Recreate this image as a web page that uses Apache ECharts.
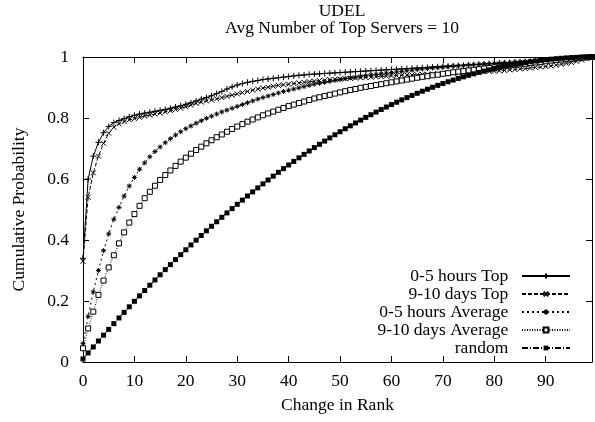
<!DOCTYPE html>
<html>
<head>
<meta charset="utf-8">
<script src="https://cdn.jsdelivr.net/npm/echarts@6/dist/echarts.min.js"></script>
<style>
html,body{margin:0;padding:0;background:#fff;}
#c{width:595px;height:422px;}
</style>
</head>
<body>
<div id="c"></div>
<script>
const titleLines = ["UDEL", "Avg Number of Top Servers = 10"];
const xAxisName = "Change in Rank";
const yAxisName = "Cumulative Probability";
const seriesNames = ["0-5 hours Top", "9-10 days Top", "0-5 hours Average", "9-10 days Average", "random"];

const ranks = [0,1,2,3,4,5,6,7,8,9,10,11,12,13,14,15,16,17,18,19,20,21,22,23,24,25,26,27,28,29,30,31,32,33,34,35,36,37,38,39,40,41,42,43,44,45,46,47,48,49,50,51,52,53,54,55,56,57,58,59,60,61,62,63,64,65,66,67,68,69,70,71,72,73,74,75,76,77,78,79,80,81,82,83,84,85,86,87,88,89,90,91,92,93,94,95,96,97,98,99];

const hoursTop = [0.34,0.60,0.675,0.72,0.752,0.772,0.785,0.792,0.798,0.804,0.809,0.813,0.816,0.819,0.822,0.825,0.828,0.832,0.836,0.84,0.845,0.85,0.856,0.862,0.867,0.873,0.88,0.887,0.895,0.902,0.908,0.913,0.917,0.92,0.923,0.926,0.928,0.93,0.932,0.934,0.936,0.938,0.94,0.941,0.943,0.944,0.945,0.946,0.947,0.948,0.949,0.95,0.951,0.952,0.953,0.954,0.955,0.956,0.957,0.958,0.959,0.96,0.961,0.962,0.963,0.964,0.965,0.966,0.967,0.968,0.969,0.97,0.971,0.972,0.973,0.974,0.975,0.976,0.977,0.978,0.979,0.98,0.981,0.982,0.983,0.984,0.985,0.986,0.987,0.988,0.989,0.99,0.991,0.992,0.993,0.994,0.995,0.996,0.998,1.0];

const daysTop = [0.33,0.54,0.62,0.675,0.717,0.75,0.77,0.781,0.788,0.794,0.798,0.802,0.806,0.81,0.813,0.816,0.82,0.824,0.828,0.832,0.837,0.842,0.848,0.852,0.856,0.859,0.863,0.867,0.871,0.875,0.879,0.883,0.887,0.891,0.895,0.898,0.901,0.904,0.907,0.909,0.911,0.913,0.915,0.917,0.919,0.921,0.923,0.924,0.926,0.927,0.928,0.929,0.93,0.931,0.932,0.933,0.934,0.935,0.936,0.937,0.938,0.939,0.94,0.941,0.941,0.942,0.943,0.943,0.944,0.945,0.945,0.946,0.947,0.947,0.948,0.949,0.95,0.951,0.952,0.953,0.954,0.955,0.956,0.958,0.959,0.961,0.962,0.964,0.966,0.967,0.969,0.971,0.973,0.976,0.979,0.982,0.986,0.99,0.995,1.0];

const hoursAvg = [0.06,0.15,0.23,0.30,0.365,0.42,0.468,0.507,0.544,0.577,0.605,0.632,0.653,0.673,0.69,0.705,0.719,0.732,0.744,0.755,0.765,0.774,0.783,0.791,0.799,0.806,0.813,0.82,0.826,0.832,0.838,0.844,0.85,0.856,0.862,0.867,0.872,0.877,0.882,0.887,0.891,0.895,0.899,0.903,0.907,0.911,0.914,0.917,0.92,0.923,0.926,0.929,0.932,0.934,0.937,0.939,0.941,0.943,0.945,0.947,0.949,0.951,0.953,0.955,0.957,0.959,0.961,0.962,0.964,0.965,0.967,0.968,0.97,0.971,0.972,0.974,0.975,0.976,0.977,0.978,0.979,0.98,0.981,0.982,0.983,0.984,0.985,0.986,0.987,0.988,0.989,0.99,0.991,0.992,0.993,0.994,0.996,0.997,0.999,1.0];

const daysAvg = [0.045,0.11,0.165,0.22,0.267,0.31,0.35,0.389,0.425,0.457,0.485,0.512,0.537,0.558,0.578,0.597,0.613,0.628,0.643,0.657,0.67,0.683,0.695,0.706,0.717,0.727,0.737,0.746,0.755,0.764,0.772,0.78,0.788,0.795,0.802,0.809,0.815,0.821,0.827,0.833,0.839,0.844,0.849,0.854,0.859,0.864,0.868,0.872,0.876,0.88,0.884,0.888,0.892,0.895,0.899,0.902,0.905,0.908,0.911,0.914,0.917,0.92,0.923,0.926,0.929,0.932,0.935,0.937,0.94,0.942,0.945,0.947,0.95,0.952,0.954,0.956,0.958,0.96,0.962,0.964,0.966,0.968,0.97,0.972,0.974,0.976,0.978,0.98,0.982,0.984,0.986,0.988,0.99,0.992,0.993,0.995,0.996,0.998,0.999,1.0];

const randomCdf = [0.01,0.0298,0.0494,0.0688,0.088,0.107,0.1258,0.1444,0.1628,0.181,0.199,0.2168,0.2344,0.2518,0.269,0.286,0.3028,0.3194,0.3358,0.352,0.368,0.3838,0.3994,0.4148,0.43,0.445,0.4598,0.4744,0.4888,0.503,0.517,0.5308,0.5444,0.5578,0.571,0.584,0.5968,0.6094,0.6218,0.634,0.646,0.6578,0.6694,0.6808,0.692,0.703,0.7138,0.7244,0.7348,0.745,0.755,0.7648,0.7744,0.7838,0.793,0.802,0.8108,0.8194,0.8278,0.836,0.844,0.8518,0.8594,0.8668,0.874,0.881,0.8878,0.8944,0.9008,0.907,0.913,0.9188,0.9244,0.9298,0.935,0.94,0.9448,0.9494,0.9538,0.958,0.962,0.9658,0.9694,0.9728,0.976,0.979,0.9818,0.9844,0.9868,0.989,0.991,0.9928,0.9944,0.9958,0.997,0.998,0.9988,0.9994,0.9998,1.0];

const FONT = "Liberation Serif";
const FS = 17.5;
const chart = echarts.init(document.getElementById('c'), null, {renderer: 'canvas'});

const PLUS = 'path://M0,5L10,5M5,0L5,10';
const CROSS = 'path://M0,0L10,10M10,0L0,10';
const STAR = 'path://M0,5L10,5M5,0L5,10M1.5,1.5L8.5,8.5M8.5,1.5L1.5,8.5';

function pairs(ys){ return ranks.map((x,i)=>[x, ys[i]]); }

function mk(name, ys, symbol, size, dash, fill, bw){
  return {
    name: name, type: 'line', data: pairs(ys),
    xAxisIndex: 0, yAxisIndex: 0,
    symbol: symbol, symbolSize: size, showSymbol: true, showAllSymbol: true,
    lineStyle: {color: '#000', width: 1, type: dash},
    itemStyle: {color: fill, borderColor: '#000', borderWidth: bw},
    emphasis: {disabled: true}, silent: true, animation: false, z: 2
  };
}

const tickStyle = {show: true, inside: true, length: 6, lineStyle: {color: '#000', width: 1}};
const textBase = {fontFamily: FONT, fontSize: FS, color: '#000'};

const option = {
  backgroundColor: '#fff',
  animation: false,
  title: {
    text: titleLines.join('\n'),
    left: 337, top: -2, textAlign: 'center',
    textStyle: {fontFamily: FONT, fontSize: FS, fontWeight: 'normal', color: '#000', lineHeight: 17}
  },
  grid: {left: 83, right: 3, top: 57, bottom: 60, show: false},
  legend: {
    orient: 'vertical', align: 'right',
    right: 24, top: 267, padding: 0,
    itemWidth: 48, itemHeight: 6, itemGap: 0,
    data: seriesNames,
    formatter: function(n){ return n + '  '; },
    textStyle: {fontFamily: FONT, fontSize: FS, color: '#000', lineHeight: 17},
    selectedMode: false
  },
  xAxis: [{
    type: 'value', min: 0, max: 99, interval: 10, position: 'bottom',
    name: xAxisName, nameLocation: 'middle', nameGap: 34,
    nameTextStyle: textBase,
    axisLine: {show: true, onZero: false, lineStyle: {color: '#000', width: 1}},
    axisTick: tickStyle,
    axisLabel: Object.assign({margin: 10, showMaxLabel: false}, textBase),
    splitLine: {show: false}
  }, {
    type: 'value', min: 0, max: 99, interval: 10, position: 'top',
    axisLine: {show: true, onZero: false, lineStyle: {color: '#000', width: 1}},
    axisTick: tickStyle,
    axisLabel: {show: false},
    splitLine: {show: false}
  }],
  yAxis: [{
    type: 'value', min: 0, max: 1, interval: 0.2, position: 'left',
    name: yAxisName, nameLocation: 'middle', nameGap: 55, nameRotate: 90,
    nameTextStyle: textBase,
    axisLine: {show: true, onZero: false, lineStyle: {color: '#000', width: 1}},
    axisTick: tickStyle,
    axisLabel: Object.assign({margin: 14}, textBase),
    splitLine: {show: false}
  }, {
    type: 'value', min: 0, max: 1, interval: 0.2, position: 'right',
    axisLine: {show: true, onZero: false, lineStyle: {color: '#000', width: 1}},
    axisTick: tickStyle,
    axisLabel: {show: false},
    splitLine: {show: false}
  }],
  series: [
    mk(seriesNames[0], hoursTop, PLUS, 6, 'solid', '#000', 1),
    mk(seriesNames[1], daysTop, CROSS, 5, [4, 2], '#000', 1),
    mk(seriesNames[2], hoursAvg, STAR, 5, [2, 3], '#000', 1),
    mk(seriesNames[3], daysAvg, 'rect', 5, [1, 1.5], '#fff', 1),
    mk(seriesNames[4], randomCdf, 'rect', 5, [6, 2, 1, 2], '#000', 0)
  ]
};
chart.setOption(option);
</script>
</body>
</html>
